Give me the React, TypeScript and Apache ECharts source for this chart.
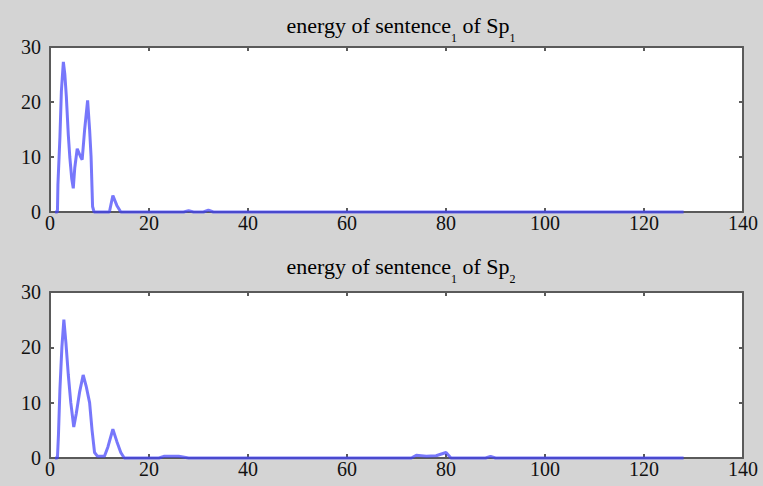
import React, { useEffect, useRef } from "react";
import * as echarts from "echarts";

// x positions and energy values for sentence 1 of speaker 1
const sp1X = [1, 1.5, 1.6, 2, 2.3, 2.7, 3, 3.3, 3.7, 4, 4.4, 4.7, 5, 5.5, 6.2, 6.5, 7, 7.6, 8, 8.3, 8.6, 8.9, 12, 12.7, 13.5, 14.3, 27, 28, 29, 31, 32, 33, 128];
const sp1Y = [0, 0, 5, 13.5, 22, 27.3, 25, 21, 14, 10, 6, 4.3, 8, 11.5, 10, 9.5, 15, 20.3, 15, 10, 1, 0, 0, 3, 1.2, 0, 0, 0.25, 0, 0, 0.35, 0, 0];

// x positions and energy values for sentence 1 of speaker 2
const sp2X = [1, 1.5, 1.7, 2, 2.4, 2.8, 3.2, 3.7, 4.2, 4.8, 5.3, 6, 6.7, 7.3, 8, 8.5, 9, 9.6, 11, 11.7, 12.7, 13.5, 14.3, 15, 22, 23, 26, 28, 73, 74, 76, 78, 80, 81, 88, 89, 90, 128];
const sp2Y = [0, 0, 4, 12.3, 20, 25, 21, 15, 10, 5.6, 8, 12, 15, 13, 10, 5, 1, 0.3, 0.3, 2, 5.2, 3, 1, 0, 0, 0.3, 0.3, 0, 0, 0.5, 0.3, 0.4, 1.0, 0, 0, 0.3, 0, 0];

const xTicks = [0, 20, 40, 60, 80, 100, 120, 140];
const yTicks = [0, 10, 20, 30];
const titles = [
  "{m|energy of sentence}{s|1}{m| of Sp}{s|1}",
  "{m|energy of sentence}{s|1}{m| of Sp}{s|2}",
];

const FONT = "'Liberation Serif', 'Times New Roman', serif";
const FRAME = "#5a5a5a";
const LINE = "rgba(66,66,250,0.72)";

export default function App() {
  const ref = useRef<HTMLDivElement>(null);
  useEffect(() => {
    if (!ref.current) return;
    const chart = echarts.init(ref.current, undefined, { renderer: "svg" });
    const grids = [
      { left: 50, top: 47, width: 693, height: 165 },
      { left: 50, top: 292, width: 693, height: 166 },
    ];
    const xMin = xTicks[0];
    const xMax = xTicks[xTicks.length - 1];
    const xInt = xTicks[1] - xTicks[0];
    const yMin = yTicks[0];
    const yMax = yTicks[yTicks.length - 1];
    const yInt = yTicks[1] - yTicks[0];
    const axisLine = { show: true, onZero: false, lineStyle: { color: FRAME, width: 2 } };
    const tick = { show: true, inside: true, length: 4, lineStyle: { color: FRAME, width: 2 } };
    const xAxis: any[] = [];
    const yAxis: any[] = [];
    grids.forEach((_, i) => {
      xAxis.push({
        type: "value", gridIndex: i, position: "bottom", min: xMin, max: xMax, interval: xInt,
        axisLine, axisTick: tick, splitLine: { show: false },
        axisLabel: { show: true, color: "#111", fontFamily: FONT, fontSize: 20, margin: 1 },
      });
      xAxis.push({
        type: "value", gridIndex: i, position: "top", min: xMin, max: xMax, interval: xInt,
        axisLine, axisTick: tick, splitLine: { show: false }, axisLabel: { show: false },
      });
      yAxis.push({
        type: "value", gridIndex: i, position: "left", min: yMin, max: yMax, interval: yInt,
        axisLine, axisTick: tick, splitLine: { show: false },
        axisLabel: { show: true, color: "#111", fontFamily: FONT, fontSize: 20, margin: 9 },
      });
      yAxis.push({
        type: "value", gridIndex: i, position: "right", min: yMin, max: yMax, interval: yInt,
        axisLine, axisTick: tick, splitLine: { show: false }, axisLabel: { show: false },
      });
    });
    const mk = (xs: number[], ys: number[]) => xs.map((x, i) => [x, ys[i]]);
    const rich = {
      m: { fontFamily: FONT, fontSize: 22, lineHeight: 22, verticalAlign: "top", color: "#111" },
      s: { fontFamily: FONT, fontSize: 12, lineHeight: 12, padding: [18, 0, 0, 0], verticalAlign: "top", color: "#111" },
    };
    chart.setOption({
      animation: false,
      backgroundColor: "#d4d4d4",
      grid: grids.map((g) => ({ ...g, show: true, backgroundColor: "#ffffff", borderWidth: 0 })),
      xAxis,
      yAxis,
      graphic: [
        { type: "text", x: 401, y: 14, style: { text: titles[0], align: "center", verticalAlign: "top", rich } },
        { type: "text", x: 401, y: 255, style: { text: titles[1], align: "center", verticalAlign: "top", rich } },
      ],
      series: [
        {
          type: "line", xAxisIndex: 0, yAxisIndex: 0, data: mk(sp1X, sp1Y), showSymbol: false, clip: false,
          lineStyle: { color: LINE, width: 3 }, z: 5,
        },
        {
          type: "line", xAxisIndex: 2, yAxisIndex: 2, data: mk(sp2X, sp2Y), showSymbol: false, clip: false,
          lineStyle: { color: LINE, width: 3 }, z: 5,
        },
      ],
    });
    return () => chart.dispose();
  }, []);
  return (
    <div
      ref={ref}
      style={{ position: "absolute", left: 0, top: 0, width: 763, height: 486, background: "#d4d4d4" }}
    />
  );
}
